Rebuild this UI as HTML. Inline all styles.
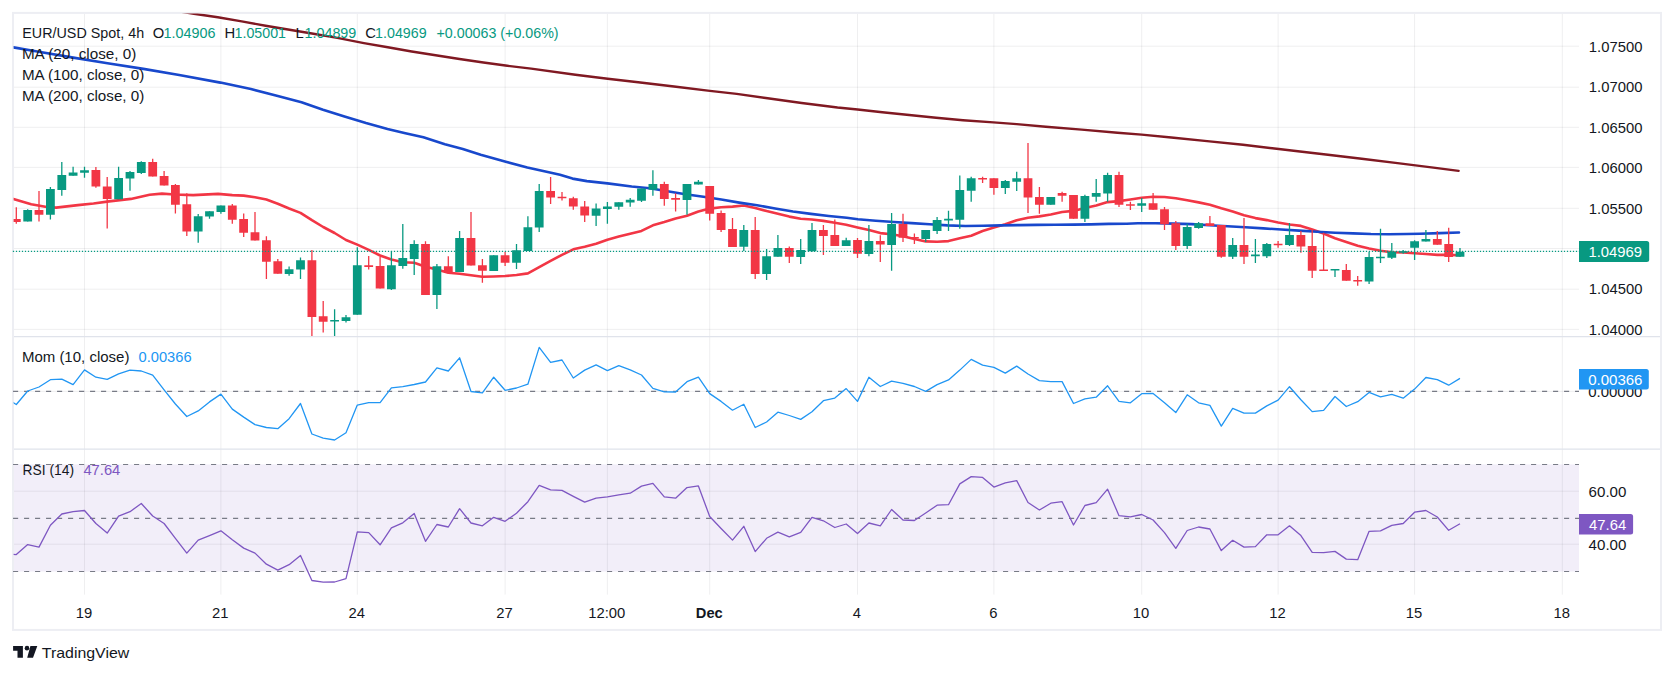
<!DOCTYPE html><html><head><meta charset="utf-8"><title>EUR/USD Spot 4h</title><style>html,body{margin:0;padding:0;background:#fff}svg{display:block}</style></head><body><svg width="1674" height="674" viewBox="0 0 1674 674" font-family="'Liberation Sans', sans-serif" font-size="14.8">
<rect width="1674" height="674" fill="#fff"/>
<defs><clipPath id="cm"><rect x="13.6" y="13.6" width="1565.4" height="323.0"/></clipPath><clipPath id="c2"><rect x="13.6" y="336.6" width="1565.4" height="112.59999999999997"/></clipPath><clipPath id="c3"><rect x="13.6" y="449.2" width="1565.4" height="145.40000000000003"/></clipPath></defs>
<rect x="13.6" y="464.4" width="1565.4" height="107.1" fill="#7e57c2" fill-opacity="0.1"/>
<path d="M84.5 13.6V594.6M220.9 13.6V594.6M357.3 13.6V594.6M505.1 13.6V594.6M607.4 13.6V594.6M709.7 13.6V594.6M857.5 13.6V594.6M993.9 13.6V594.6M1141.7 13.6V594.6M1278.1 13.6V594.6M1414.6 13.6V594.6M1562.3 13.6V594.6M13.6 329.4H1579.0M13.6 289.2H1579.0M13.6 248.5H1579.0M13.6 208.3H1579.0M13.6 167.4H1579.0M13.6 127.3H1579.0M13.6 87.2H1579.0M13.6 46.2H1579.0M13.6 391.35H1579.0M13.6 491.2H1579.0M13.6 544.2H1579.0" stroke="#2a2e39" stroke-opacity="0.075" stroke-width="1.0" fill="none"/>
<path d="M13.6 336.6H1660.4M13.6 449.2H1660.4" stroke="#e0e3eb" stroke-width="1.2" fill="none"/>
<rect x="13" y="12.9" width="1648" height="617" fill="none" stroke="#edeef3" stroke-width="2"/>
<g clip-path="url(#cm)">
<polyline points="4.0,196.5 13.4,198.9 31.2,204.2 46.7,207.0 56.1,207.6 77.9,205.1 93.5,203.5 109.1,201.4 130.9,198.9 149.6,194.8 162.0,193.6 174.5,194.5 193.2,195.1 218.1,193.9 232.3,195.1 243.7,195.6 255.0,197.2 266.4,199.5 277.8,203.7 289.1,208.5 300.5,212.9 311.9,220.2 323.2,227.0 334.6,233.0 346.0,240.0 357.3,244.6 368.7,249.9 380.1,255.5 391.4,259.5 402.8,262.2 414.2,262.8 425.5,266.7 436.9,269.4 448.3,272.8 459.6,273.7 471.0,275.3 482.4,276.8 493.7,276.5 505.1,276.0 516.5,275.0 527.9,273.4 539.2,267.1 550.6,260.9 562.0,254.8 573.3,249.3 584.7,246.8 596.1,243.8 607.4,239.7 618.8,236.6 630.2,233.7 641.5,230.9 652.9,225.3 664.3,222.0 675.6,218.4 687.0,215.7 698.4,211.5 709.7,208.6 721.1,207.3 732.5,206.6 743.8,205.5 755.2,207.9 766.6,211.1 777.9,213.7 789.3,216.6 800.7,218.8 812.0,219.5 823.4,220.9 834.8,222.8 846.2,224.7 857.5,227.4 868.9,230.0 880.3,233.1 891.6,234.3 903.0,236.2 914.4,239.0 925.7,241.4 937.1,241.7 948.5,241.1 959.8,238.3 971.2,235.7 982.6,231.0 993.9,227.6 1005.3,224.2 1016.7,220.3 1028.0,217.7 1039.4,216.4 1050.8,214.5 1062.1,212.0 1073.5,210.9 1084.9,208.0 1096.2,205.6 1107.6,202.1 1119.0,201.1 1130.4,199.5 1141.7,197.8 1153.1,196.8 1164.5,197.0 1175.8,198.3 1187.2,200.2 1198.6,202.4 1209.9,204.7 1221.3,208.2 1232.7,211.4 1244.0,215.3 1255.4,218.1 1266.8,220.1 1278.1,222.5 1289.5,224.5 1300.9,225.9 1312.2,229.6 1323.6,233.5 1335.0,238.2 1346.3,242.0 1357.7,245.8 1369.1,248.5 1380.5,250.8 1391.8,252.2 1403.2,252.5 1414.6,253.2 1425.9,254.0 1437.3,254.9 1448.7,254.9 1460.0,255.3" fill="none" stroke="#f23645" stroke-width="2.6" stroke-linejoin="round" stroke-linecap="round"/>
<polyline points="4.0,45.6 13.4,47.4 35.8,51.3 71.7,57.4 107.5,63.3 143.4,68.9 179.2,75.0 220.4,82.6 250.9,89.1 277.8,96.1 301.5,102.2 323.0,109.7 344.5,116.5 366.0,123.0 387.5,128.9 405.4,133.2 423.4,137.3 444.9,144.2 462.8,149.0 480.7,154.7 505.8,161.7 527.3,167.6 548.8,172.3 560.0,174.8 572.5,178.6 586.9,181.1 607.5,183.4 631.7,186.5 649.6,188.2 667.5,191.3 685.4,194.2 703.4,196.7 721.3,199.5 739.2,202.6 757.1,205.3 775.1,208.5 793.0,211.5 810.9,213.9 828.8,216.0 846.7,217.8 857.9,219.3 875.8,220.8 893.8,222.0 911.7,223.1 929.6,224.2 947.5,225.4 965.4,226.0 983.4,225.8 1001.3,225.4 1019.2,225.1 1037.1,224.9 1055.0,224.7 1073.0,224.6 1090.9,224.4 1108.8,223.9 1126.7,223.7 1137.9,223.3 1155.8,223.2 1173.8,223.6 1191.7,224.1 1209.6,225.2 1227.5,226.3 1245.4,227.3 1263.4,228.4 1281.3,229.5 1299.2,230.6 1317.1,231.8 1335.0,232.7 1353.0,233.4 1370.9,234.0 1388.8,234.2 1406.7,234.0 1420.0,233.8 1440.0,233.1 1459.0,232.5" fill="none" stroke="#1848cc" stroke-width="2.6" stroke-linejoin="round" stroke-linecap="round"/>
<polyline points="150.0,6.9 193.9,13.7 217.8,17.3 241.7,21.4 265.6,25.7 289.5,29.7 313.4,33.7 337.3,37.9 363.9,43.1 387.8,47.3 411.7,51.5 435.6,55.3 459.5,59.0 483.4,62.5 507.3,65.8 531.2,68.6 575.4,74.8 607.7,78.7 638.2,82.3 674.0,86.5 709.9,90.9 736.7,93.9 765.8,98.0 801.7,103.0 837.5,107.5 857.6,109.5 882.3,112.3 909.2,115.0 936.1,117.7 963.0,120.2 993.4,122.4 1016.7,124.1 1045.8,126.7 1081.7,129.6 1117.5,132.7 1141.7,134.6 1171.3,137.5 1207.1,141.1 1243.0,144.8 1278.8,149.0 1300.0,151.5 1325.8,154.5 1361.7,158.7 1397.5,163.1 1433.4,167.6 1458.6,170.9" fill="none" stroke="#801922" stroke-width="2.4" stroke-linejoin="round" stroke-linecap="round"/>
<path d="M27.7 209.2V221.6M50.4 187.0V219.4M61.8 162.1V195.8M73.1 166.8V175.8M84.5 166.8V177.7M118.6 166.8V199.2M130.0 171.1V190.8M141.3 161.2V173.9M198.2 214.1V242.8M209.5 211.3V218.8M220.9 205.4V213.8M289.1 266.5V275.8M300.5 257.4V278.9M334.6 309.2V336.0M346.0 315.1V322.6M357.3 247.2V314.8M391.4 251.2V289.9M402.8 224.1V268.7M414.2 240.3V274.9M436.9 264.0V308.9M459.6 231.0V272.1M493.7 255.3V270.8M516.5 244.1V269.0M527.9 216.3V250.9M539.2 183.9V231.9M596.1 203.5V226.0M607.4 202.0V223.8M618.8 202.3V209.8M630.2 197.9V206.7M641.5 188.6V202.0M652.9 170.2V195.8M687.0 183.9V214.8M698.4 179.9V184.5M743.8 225.0V250.9M766.6 249.0V279.9M777.9 235.0V256.8M800.7 239.1V264.0M812.0 222.9V251.8M846.2 237.8V245.9M868.9 225.0V256.2M891.6 212.9V270.8M925.7 230.0V241.9M937.1 216.9V234.1M948.5 210.7V231.0M959.8 175.5V228.8M971.2 176.8V201.7M1005.3 179.9V193.9M1016.7 171.8V191.1M1050.8 197.0V204.8M1084.9 194.8V221.9M1096.2 178.9V201.7M1107.6 172.7V201.7M1141.7 197.9V212.0M1187.2 223.8V249.0M1198.6 221.9V228.8M1232.7 238.1V259.0M1255.4 239.1V263.1M1266.8 243.1V258.1M1289.5 222.9V245.9M1335.0 269.0V277.1M1369.1 251.8V283.9M1380.5 228.8V263.1M1391.8 243.1V259.0M1403.2 250.0V253.7M1414.6 240.3V259.9M1425.9 230.0V241.6M1460.0 248.1V256.8" stroke="#089981" stroke-width="1.3" fill="none"/>
<path d="M23.3 210.1h8.8v11.5h-8.8zM46.0 188.9h8.8v25.9h-8.8zM57.4 174.9h8.8v15.0h-8.8zM68.7 172.4h8.8v3.4h-8.8zM80.1 170.2h8.8v2.5h-8.8zM114.2 178.0h8.8v21.2h-8.8zM125.6 172.1h8.8v6.5h-8.8zM136.9 162.1h8.8v10.9h-8.8zM193.8 216.3h8.8v15.3h-8.8zM205.1 211.3h8.8v5.3h-8.8zM216.5 205.4h8.8v6.5h-8.8zM284.7 269.3h8.8v4.7h-8.8zM296.1 260.3h8.8v9.3h-8.8zM330.2 320.1h8.8v1.5h-8.8zM341.6 317.3h8.8v3.7h-8.8zM352.9 265.2h8.8v49.5h-8.8zM387.0 265.2h8.8v24.0h-8.8zM398.4 258.1h8.8v7.8h-8.8zM409.8 244.1h8.8v15.0h-8.8zM432.5 266.2h8.8v28.7h-8.8zM455.2 238.1h8.8v34.0h-8.8zM489.3 255.3h8.8v15.6h-8.8zM512.1 250.3h8.8v12.5h-8.8zM523.5 227.2h8.8v23.7h-8.8zM534.8 191.1h8.8v36.5h-8.8zM591.7 208.5h8.8v7.2h-8.8zM603.0 206.4h8.8v2.5h-8.8zM614.4 202.3h8.8v4.4h-8.8zM625.8 199.8h8.8v2.8h-8.8zM637.1 188.6h8.8v12.2h-8.8zM648.5 183.9h8.8v5.9h-8.8zM682.6 183.9h8.8v16.2h-8.8zM694.0 181.7h8.8v2.8h-8.8zM739.4 230.0h8.8v16.8h-8.8zM762.2 256.2h8.8v17.8h-8.8zM773.5 248.1h8.8v8.7h-8.8zM796.3 250.0h8.8v6.9h-8.8zM807.6 230.0h8.8v21.2h-8.8zM841.8 240.3h8.8v5.6h-8.8zM864.5 240.9h8.8v13.1h-8.8zM887.2 224.1h8.8v20.9h-8.8zM921.3 230.0h8.8v9.0h-8.8zM932.7 220.1h8.8v10.9h-8.8zM944.1 218.8h8.8v1.6h-8.8zM955.4 190.1h8.8v29.6h-8.8zM966.8 178.3h8.8v12.5h-8.8zM1000.9 181.1h8.8v6.9h-8.8zM1012.3 178.3h8.8v3.4h-8.8zM1046.4 197.0h8.8v7.8h-8.8zM1080.5 196.1h8.8v22.7h-8.8zM1091.8 193.0h8.8v3.7h-8.8zM1103.2 174.9h8.8v18.7h-8.8zM1137.3 203.2h8.8v2.5h-8.8zM1182.8 226.9h8.8v19.0h-8.8zM1194.2 223.2h8.8v4.7h-8.8zM1228.3 245.0h8.8v11.8h-8.8zM1251.0 254.6h8.8v1.6h-8.8zM1262.4 244.1h8.8v12.2h-8.8zM1285.1 235.0h8.8v10.0h-8.8zM1330.6 269.0h8.8v1.5h-8.8zM1364.7 257.1h8.8v24.3h-8.8zM1376.0 256.8h8.8v1.5h-8.8zM1387.4 251.8h8.8v5.9h-8.8zM1398.8 251.2h8.8v1.5h-8.8zM1410.2 241.2h8.8v6.5h-8.8zM1421.5 239.1h8.8v2.5h-8.8zM1455.6 251.8h8.8v5.0h-8.8z" fill="#089981"/>
<path d="M16.3 207.3V223.8M39.0 191.1V221.6M95.9 167.1V187.7M107.2 177.1V228.5M152.7 158.7V176.4M164.1 171.1V185.5M175.4 183.9V213.5M186.8 193.3V236.0M232.3 203.9V223.8M243.7 213.5V236.9M255.0 212.0V240.6M266.4 236.3V278.9M277.8 259.0V273.7M311.9 250.0V336.0M323.2 301.1V332.5M368.7 255.9V269.6M380.1 257.1V288.6M425.5 241.2V294.8M448.3 256.2V272.1M471.0 212.0V265.5M482.4 259.0V282.7M505.1 251.8V265.9M550.6 177.1V203.9M562.0 192.0V200.4M573.3 196.7V209.8M584.7 201.1V221.9M664.3 181.7V205.7M675.6 193.3V211.6M709.7 186.1V220.4M721.1 210.4V231.9M732.5 217.9V246.9M755.2 216.9V278.9M789.3 246.5V263.1M823.4 225.0V255.0M834.8 219.4V245.9M857.5 238.1V258.1M880.3 235.3V262.1M903.0 213.8V241.9M914.4 233.5V244.1M982.6 176.8V183.0M993.9 178.3V194.8M1028.0 143.1V212.9M1039.4 187.0V213.8M1062.1 191.7V201.7M1073.5 195.1V218.8M1119.0 171.8V207.0M1130.4 201.7V210.1M1153.1 193.0V209.8M1164.5 207.0V230.0M1175.8 221.0V250.0M1209.9 216.0V226.0M1221.3 225.0V257.8M1244.0 217.9V264.0M1278.1 240.9V247.8M1300.9 231.0V252.8M1312.2 230.0V278.0M1323.6 232.8V270.8M1346.3 264.0V280.8M1357.7 276.1V285.8M1437.3 231.0V244.7M1448.7 227.8V262.1" stroke="#f23645" stroke-width="1.3" fill="none"/>
<path d="M11.9 219.1h8.8v2.8h-8.8zM34.6 210.1h8.8v4.7h-8.8zM91.5 169.9h8.8v16.5h-8.8zM102.8 186.4h8.8v12.5h-8.8zM148.3 162.1h8.8v14.3h-8.8zM159.7 176.1h8.8v9.3h-8.8zM171.0 184.9h8.8v19.9h-8.8zM182.4 204.2h8.8v27.4h-8.8zM227.9 205.4h8.8v14.3h-8.8zM239.2 219.1h8.8v13.7h-8.8zM250.6 232.2h8.8v8.4h-8.8zM262.0 240.3h8.8v21.5h-8.8zM273.4 261.2h8.8v12.5h-8.8zM307.5 260.3h8.8v56.6h-8.8zM318.8 316.2h8.8v5.6h-8.8zM364.3 265.2h8.8v1.9h-8.8zM375.7 265.9h8.8v22.7h-8.8zM421.1 244.1h8.8v50.8h-8.8zM443.9 266.2h8.8v5.9h-8.8zM466.6 238.1h8.8v27.4h-8.8zM478.0 265.2h8.8v5.6h-8.8zM500.7 255.3h8.8v7.5h-8.8zM546.2 191.1h8.8v6.5h-8.8zM557.6 196.7h8.8v1.6h-8.8zM568.9 198.2h8.8v8.4h-8.8zM580.3 206.4h8.8v9.0h-8.8zM659.9 183.9h8.8v15.0h-8.8zM671.2 197.9h8.8v1.9h-8.8zM705.3 186.1h8.8v27.7h-8.8zM716.7 212.9h8.8v17.1h-8.8zM728.1 229.1h8.8v17.8h-8.8zM750.8 230.0h8.8v43.9h-8.8zM784.9 248.1h8.8v8.7h-8.8zM819.0 230.0h8.8v5.9h-8.8zM830.4 235.0h8.8v10.9h-8.8zM853.1 240.0h8.8v13.7h-8.8zM875.9 240.9h8.8v3.7h-8.8zM898.6 224.1h8.8v13.7h-8.8zM910.0 236.9h8.8v1.6h-8.8zM978.2 178.0h8.8v1.5h-8.8zM989.5 178.3h8.8v9.7h-8.8zM1023.6 178.3h8.8v19.3h-8.8zM1035.0 197.0h8.8v7.8h-8.8zM1057.7 193.0h8.8v2.8h-8.8zM1069.1 195.1h8.8v23.7h-8.8zM1114.6 174.9h8.8v29.9h-8.8zM1126.0 204.2h8.8v1.5h-8.8zM1148.7 203.2h8.8v6.5h-8.8zM1160.1 209.2h8.8v15.0h-8.8zM1171.4 223.2h8.8v22.7h-8.8zM1205.5 223.2h8.8v2.8h-8.8zM1216.9 225.0h8.8v31.8h-8.8zM1239.6 245.0h8.8v11.8h-8.8zM1273.7 243.7h8.8v1.5h-8.8zM1296.5 235.0h8.8v11.5h-8.8zM1307.8 245.9h8.8v24.9h-8.8zM1319.2 269.6h8.8v1.5h-8.8zM1341.9 269.9h8.8v10.9h-8.8zM1353.3 279.9h8.8v1.5h-8.8zM1432.9 239.1h8.8v5.6h-8.8zM1444.3 244.1h8.8v12.8h-8.8z" fill="#f23645"/>
</g>
<path d="M12.85 251.35H1579.0" stroke="#089981" stroke-width="1.3" stroke-dasharray="1.3 1.7" fill="none"/>
<path d="M13.05 391.35H1579.0" stroke="#787b86" stroke-width="1.2" stroke-dasharray="5.1 5.9" fill="none"/>
<polyline clip-path="url(#c2)" points="4.9,397.5 16.3,404.5 27.7,391.0 39.0,387.0 50.4,379.7 61.8,379.2 73.1,384.7 84.5,369.9 95.9,377.2 107.2,379.4 118.6,373.9 130.0,370.2 141.3,371.0 152.7,375.1 164.1,389.9 175.4,404.0 186.8,416.5 198.2,410.9 209.5,401.9 220.9,394.1 232.3,409.1 243.7,417.1 255.0,424.6 266.4,427.5 277.8,428.7 289.1,418.7 300.5,403.5 311.9,434.0 323.2,438.2 334.6,440.0 346.0,432.7 357.3,405.1 368.7,402.6 380.1,402.7 391.4,387.8 402.8,386.6 414.2,384.5 425.5,382.0 436.9,367.8 448.3,371.0 459.6,357.8 471.0,391.5 482.4,392.9 493.7,377.2 505.1,390.3 516.5,388.0 527.9,384.2 539.2,347.4 550.6,362.3 562.0,360.0 573.3,378.0 584.7,370.1 596.1,364.9 607.4,370.6 618.8,365.7 630.2,369.9 641.5,375.0 652.9,388.3 664.3,391.9 675.6,392.0 687.0,381.7 698.4,377.1 709.7,393.6 721.1,401.4 732.5,410.2 743.8,404.2 755.2,427.5 766.6,422.0 777.9,412.2 789.3,415.5 800.7,419.4 812.0,411.8 823.4,400.7 834.8,398.1 846.2,388.6 857.5,401.4 868.9,377.3 880.3,386.5 891.6,381.2 903.0,383.3 914.4,386.5 925.7,391.4 937.1,384.6 948.5,379.9 959.8,370.1 971.2,359.4 982.6,365.2 993.9,367.3 1005.3,373.1 1016.7,366.1 1028.0,374.0 1039.4,380.6 1050.8,381.6 1062.1,381.6 1073.5,403.5 1084.9,398.9 1096.2,397.2 1107.6,385.8 1119.0,401.4 1130.4,402.8 1141.7,393.7 1153.1,393.5 1164.5,402.8 1175.8,412.6 1187.2,394.8 1198.6,402.8 1209.9,405.4 1221.3,426.1 1232.7,408.4 1244.0,413.1 1255.4,413.1 1266.8,405.9 1278.1,400.2 1289.5,386.7 1300.9,399.7 1312.2,411.6 1323.6,410.4 1335.0,396.5 1346.3,406.5 1357.7,401.7 1369.1,392.4 1380.5,396.8 1391.8,394.3 1403.2,398.2 1414.6,389.1 1425.9,377.5 1437.3,379.6 1448.7,385.2 1460.0,378.4" fill="none" stroke="#2196f3" stroke-width="1.3" stroke-linejoin="round"/>
<path d="M13.05 464.5H1579.0" stroke="#787b86" stroke-width="1.2" stroke-dasharray="5.1 5.9" fill="none"/>
<path d="M13.05 518.4H1579.0" stroke="#787b86" stroke-width="1.2" stroke-dasharray="5.1 5.9" fill="none"/>
<path d="M13.05 571.5H1579.0" stroke="#787b86" stroke-width="1.2" stroke-dasharray="5.1 5.9" fill="none"/>
<polyline clip-path="url(#c3)" points="4.9,553.5 16.3,554.6 27.7,544.6 39.0,547.1 50.4,525.3 61.8,514.0 73.1,511.7 84.5,510.5 95.9,523.5 107.2,533.1 118.6,516.2 130.0,511.7 141.3,503.5 152.7,516.0 164.1,523.5 175.4,538.3 186.8,553.1 198.2,540.1 209.5,535.6 220.9,530.8 232.3,539.8 243.7,548.1 255.0,553.1 266.4,564.2 277.8,570.2 289.1,564.7 300.5,555.4 311.9,580.5 323.2,582.2 334.6,582.0 346.0,578.7 357.3,531.8 368.7,532.6 380.1,544.8 391.4,527.8 402.8,522.8 414.2,513.5 425.5,541.3 436.9,524.5 448.3,527.0 459.6,508.7 471.0,523.0 482.4,525.8 493.7,517.3 505.1,521.3 516.5,513.2 527.9,501.7 539.2,485.4 550.6,489.9 562.0,490.4 573.3,496.4 584.7,502.2 596.1,498.2 607.4,496.9 618.8,494.9 630.2,493.2 641.5,486.1 652.9,483.4 664.3,496.9 675.6,498.2 687.0,487.6 698.4,485.9 709.7,516.5 721.1,528.5 732.5,540.1 743.8,526.3 755.2,551.6 766.6,538.3 777.9,532.1 789.3,536.8 800.7,532.3 812.0,517.3 823.4,520.8 834.8,527.5 846.2,524.0 857.5,533.6 868.9,523.0 880.3,525.8 891.6,509.5 903.0,520.0 914.4,520.5 925.7,513.0 937.1,505.2 948.5,504.7 959.8,483.9 971.2,476.6 982.6,477.4 993.9,487.1 1005.3,482.9 1016.7,480.6 1028.0,502.5 1039.4,510.0 1050.8,503.2 1062.1,501.7 1073.5,525.0 1084.9,505.5 1096.2,502.7 1107.6,489.2 1119.0,515.7 1130.4,516.8 1141.7,514.5 1153.1,520.0 1164.5,532.6 1175.8,548.4 1187.2,530.5 1198.6,527.0 1209.9,529.0 1221.3,550.6 1232.7,540.3 1244.0,547.1 1255.4,546.6 1266.8,534.8 1278.1,534.8 1289.5,525.8 1300.9,535.6 1312.2,552.4 1323.6,552.6 1335.0,551.4 1346.3,559.1 1357.7,559.7 1369.1,531.3 1380.5,530.8 1391.8,525.3 1403.2,523.5 1414.6,512.2 1425.9,510.5 1437.3,517.0 1448.7,530.3 1460.0,523.8" fill="none" stroke="#7e57c2" stroke-width="1.3" stroke-linejoin="round"/>
<text x="1588.8" y="334.7" fill="#131722" textLength="53.6" lengthAdjust="spacingAndGlyphs">1.04000</text>
<text x="1588.8" y="293.8" fill="#131722" textLength="53.6" lengthAdjust="spacingAndGlyphs">1.04500</text>
<text x="1588.8" y="213.9" fill="#131722" textLength="53.6" lengthAdjust="spacingAndGlyphs">1.05500</text>
<text x="1588.8" y="172.6" fill="#131722" textLength="53.6" lengthAdjust="spacingAndGlyphs">1.06000</text>
<text x="1588.8" y="132.8" fill="#131722" textLength="53.6" lengthAdjust="spacingAndGlyphs">1.06500</text>
<text x="1588.8" y="91.9" fill="#131722" textLength="53.6" lengthAdjust="spacingAndGlyphs">1.07000</text>
<text x="1588.8" y="51.8" fill="#131722" textLength="53.6" lengthAdjust="spacingAndGlyphs">1.07500</text>
<text x="1588.2" y="397.1" fill="#131722" textLength="54.2" lengthAdjust="spacingAndGlyphs">0.00000</text>
<text x="1588.6" y="496.7" fill="#131722" textLength="37.8" lengthAdjust="spacingAndGlyphs">60.00</text>
<text x="1588.6" y="549.7" fill="#131722" textLength="37.8" lengthAdjust="spacingAndGlyphs">40.00</text>
<path d="M1579.0 241.1h67.7a2.5 2.5 0 0 1 2.5 2.5v15.8a2.5 2.5 0 0 1 -2.5 2.5h-67.7z" fill="#089981"/><text x="1588.5" y="256.9" fill="#fff" textLength="53.6" lengthAdjust="spacingAndGlyphs">1.04969</text>
<path d="M1579.0 368.9h67.3a2.5 2.5 0 0 1 2.5 2.5v15.5a2.5 2.5 0 0 1 -2.5 2.5h-67.3z" fill="#2196f3"/><text x="1588.2" y="384.6" fill="#fff" textLength="54.3" lengthAdjust="spacingAndGlyphs">0.00366</text>
<path d="M1579.0 514.1h51.6a2.5 2.5 0 0 1 2.5 2.5v15.5a2.5 2.5 0 0 1 -2.5 2.5h-51.6z" fill="#7e57c2"/><text x="1589.0" y="529.8" fill="#fff" textLength="37.2" lengthAdjust="spacingAndGlyphs">47.64</text>
<text x="83.9" y="617.9" fill="#131722" text-anchor="middle">19</text>
<text x="220.3" y="617.9" fill="#131722" text-anchor="middle">21</text>
<text x="356.7" y="617.9" fill="#131722" text-anchor="middle">24</text>
<text x="504.5" y="617.9" fill="#131722" text-anchor="middle">27</text>
<text x="606.8" y="617.9" fill="#131722" text-anchor="middle">12:00</text>
<text x="695.8" y="617.9" fill="#131722" textLength="26.9" lengthAdjust="spacingAndGlyphs" font-weight="bold">Dec</text>
<text x="856.9" y="617.9" fill="#131722" text-anchor="middle">4</text>
<text x="993.3" y="617.9" fill="#131722" text-anchor="middle">6</text>
<text x="1141.1" y="617.9" fill="#131722" text-anchor="middle">10</text>
<text x="1277.5" y="617.9" fill="#131722" text-anchor="middle">12</text>
<text x="1414.0" y="617.9" fill="#131722" text-anchor="middle">15</text>
<text x="1561.7" y="617.9" fill="#131722" text-anchor="middle">18</text>
<text x="22.3" y="37.9" fill="#131722" textLength="121.8" lengthAdjust="spacingAndGlyphs">EUR/USD Spot, 4h</text>
<text x="152.7" y="37.9" fill="#131722">O</text><text x="163.4" y="37.9" fill="#089981" textLength="52.0" lengthAdjust="spacingAndGlyphs">1.04906</text>
<text x="224.5" y="37.9" fill="#131722">H</text><text x="234.6" y="37.9" fill="#089981" textLength="51.4" lengthAdjust="spacingAndGlyphs">1.05001</text>
<text x="295.6" y="37.9" fill="#131722">L</text><text x="304.5" y="37.9" fill="#089981" textLength="51.8" lengthAdjust="spacingAndGlyphs">1.04899</text>
<text x="365.3" y="37.9" fill="#131722">C</text><text x="375.1" y="37.9" fill="#089981" textLength="51.5" lengthAdjust="spacingAndGlyphs">1.04969</text>
<text x="436.5" y="37.9" fill="#089981" textLength="122.1" lengthAdjust="spacingAndGlyphs">+0.00063 (+0.06%)</text>
<text x="21.9" y="58.7" fill="#131722" textLength="114.4" lengthAdjust="spacingAndGlyphs">MA (20, close, 0)</text>
<text x="21.9" y="79.6" fill="#131722" textLength="122.4" lengthAdjust="spacingAndGlyphs">MA (100, close, 0)</text>
<text x="21.9" y="100.7" fill="#131722" textLength="122.4" lengthAdjust="spacingAndGlyphs">MA (200, close, 0)</text>
<text x="21.9" y="361.7" fill="#131722" textLength="107.5" lengthAdjust="spacingAndGlyphs">Mom (10, close)</text><text x="138.6" y="361.7" fill="#2196f3" textLength="53.0" lengthAdjust="spacingAndGlyphs">0.00366</text>
<text x="22.6" y="474.7" fill="#131722" textLength="51.5" lengthAdjust="spacingAndGlyphs">RSI (14)</text><text x="83.4" y="474.7" fill="#7e57c2" textLength="36.9" lengthAdjust="spacingAndGlyphs">47.64</text>
<path d="M13.1 645.9h9.8v11.8h-5.4v-7h-4.4zM30.4 645.9h6.9l-4.3 11.8h-5.8z" fill="#131722"/><circle cx="27.0" cy="648.15" r="2.3" fill="#131722"/>
<text x="41.8" y="657.7" fill="#131722" textLength="87.5" lengthAdjust="spacingAndGlyphs">TradingView</text>
</svg></body></html>
